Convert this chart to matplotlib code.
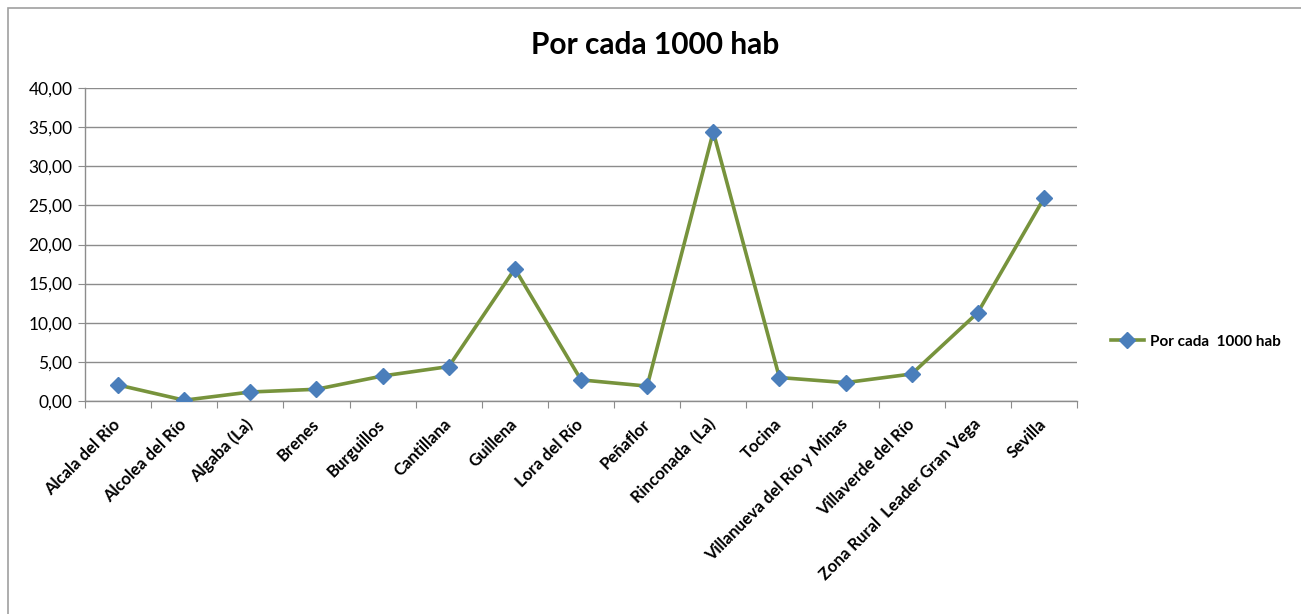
import matplotlib
matplotlib.use("Agg")
import matplotlib.pyplot as plt
from matplotlib.patches import Rectangle
from matplotlib.ticker import FuncFormatter

plt.rcParams['font.family'] = ['Lato', 'DejaVu Sans']

municipios = [
    "Alcala del Rio", "Alcolea del Río", "Algaba (La)", "Brenes", "Burguillos",
    "Cantillana", "Guillena", "Lora del Río", "Peñaflor", "Rinconada  (La)",
    "Tocina", "Villanueva del Río y Minas", "Villaverde del Río",
    "Zona Rural  Leader Gran Vega", "Sevilla",
]
por_1000_hab = [2.05, 0.10, 1.15, 1.50, 3.20, 4.40, 16.90, 2.70, 1.90, 34.40,
                3.00, 2.35, 3.45, 11.30, 25.90]
y_ticks = [0, 5, 10, 15, 20, 25, 30, 35, 40]

line_color = "#77933C"
marker_color = "#4A7EBB"
grid_color = "#8C8C8C"

fig = plt.figure(figsize=(13.01, 6.14), dpi=100)
fig.patches.append(Rectangle((8 / 1301, -0.1), 1.2, 1 - 8 / 614 + 0.1,
                             transform=fig.transFigure, fill=False,
                             edgecolor="#A0A0A0", linewidth=1.2))

ax = fig.add_axes([85 / 1301, 1 - 401 / 614, (1077 - 85) / 1301, (401 - 88) / 614])
x = list(range(len(municipios)))
ax.plot(x, por_1000_hab, color=line_color, linewidth=2.6, marker="D",
        markersize=8, markerfacecolor=marker_color, markeredgecolor=marker_color,
        label="Por cada  1000 hab", zorder=3)

ax.set_xlim(-0.5, len(municipios) - 0.5)
ax.set_ylim(0, 40)
ax.set_yticks(y_ticks)
ax.yaxis.set_major_formatter(FuncFormatter(lambda v, p: f"{v:.2f}".replace(".", ",")))
ax.grid(axis="y", color=grid_color, linewidth=1.0)
ax.set_axisbelow(True)

ax.set_xticks([i + 0.5 for i in range(-1, len(municipios))], minor=False)
ax.set_xticklabels([])
ax.set_xticks(x, minor=True)
ax.set_xticklabels(municipios, minor=True, rotation=45, ha="right", va="center",
                   rotation_mode="anchor", fontsize=12, fontweight="bold")
ax.tick_params(axis="x", which="minor", length=0, pad=15)
ax.tick_params(axis="x", which="major", length=5, color=grid_color, direction="out")
ax.tick_params(axis="y", length=5, color=grid_color, labelsize=12.5, pad=4)

for side in ["top", "right"]:
    ax.spines[side].set_visible(False)
for side in ["left", "bottom"]:
    ax.spines[side].set_color(grid_color)
    ax.spines[side].set_linewidth(1.0)

fig.text(655 / 1301, 1 - 45 / 614, "Por cada 1000 hab", ha="center", va="center",
         fontsize=21.5, fontweight="bold")

leg = ax.legend(loc="center left", bbox_to_anchor=(1.02, 0.19), frameon=False,
                prop={"weight": "bold", "size": 11}, handlelength=2.2,
                handletextpad=0.4)

fig.savefig("out.png", dpi=100)
